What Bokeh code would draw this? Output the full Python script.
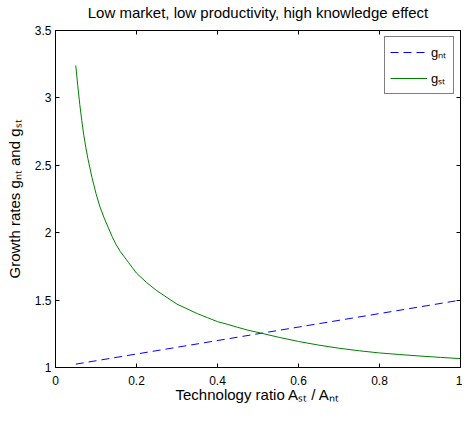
from bokeh.plotting import figure
from bokeh.models import Range1d, FixedTicker, LinearAxis, Legend, LegendItem
from bokeh.embed import file_html
from bokeh.resources import INLINE

# ---- data ----
x_st = [0.05, 0.055, 0.06, 0.065, 0.07, 0.075, 0.08, 0.09, 0.10, 0.11, 0.12, 0.13,
        0.14, 0.15, 0.16, 0.17, 0.18, 0.19, 0.20, 0.225, 0.25, 0.275, 0.30, 0.325,
        0.35, 0.375, 0.40, 0.425, 0.45, 0.475, 0.50, 0.55, 0.60, 0.65, 0.70, 0.75,
        0.80, 0.85, 0.90, 0.95, 1.00]
g_st = [3.24, 3.09, 2.95, 2.83, 2.72, 2.63, 2.55, 2.41, 2.29, 2.19, 2.11, 2.04,
        1.97, 1.91, 1.86, 1.82, 1.78, 1.74, 1.70, 1.63, 1.57, 1.52, 1.47, 1.435,
        1.40, 1.37, 1.34, 1.32, 1.298, 1.277, 1.26, 1.225, 1.193, 1.166, 1.143, 1.124,
        1.108, 1.096, 1.085, 1.075, 1.066]
x_nt = [0.05, 0.50, 1.00]
g_nt = [1.025, 1.25, 1.50]

x_ticks = [0, 0.2, 0.4, 0.6, 0.8, 1]
x_tick_labels = ["0", "0.2", "0.4", "0.6", "0.8", "1"]
y_ticks = [1, 1.5, 2, 2.5, 3, 3.5]
y_tick_labels = ["1", "1.5", "2", "2.5", "3", "3.5"]

title_text = "Low market, low productivity, high knowledge effect"
x_label = "Technology ratio A\u209b\u209c / A\u2099\u209c"
y_label = "Growth rates g\u2099\u209c and g\u209b\u209c"
legend_labels = ["g\u2099\u209c", "g\u209b\u209c"]

# ---- styling ----
FONT = "Liberation Sans"

p = figure(width=462, height=413, output_backend="svg", toolbar_location=None,
           x_range=Range1d(0, 1), y_range=Range1d(1, 3.5),
           min_border_left=55, min_border_right=2, min_border_top=29, min_border_bottom=46)
p.title.visible = False
p.xgrid.visible = False
p.ygrid.visible = False
p.outline_line_color = "black"
p.outline_line_width = 1
p.background_fill_color = "white"
p.border_fill_color = "white"

xt = FixedTicker(ticks=x_ticks)
yt = FixedTicker(ticks=y_ticks)


def style_axis(ax, ticker, standoff):
    ax.ticker = ticker
    ax.major_tick_in = 4
    ax.major_tick_out = 0
    ax.minor_tick_in = 0
    ax.minor_tick_out = 0
    ax.axis_line_color = "black"
    ax.major_tick_line_color = "black"
    ax.major_label_text_font = FONT
    ax.major_label_text_font_size = "12px"
    ax.major_label_text_color = "black"
    ax.major_label_standoff = standoff
    ax.axis_label_text_font = FONT
    ax.axis_label_text_font_size = "15px"
    ax.axis_label_text_font_style = "normal"
    ax.axis_label_text_color = "black"


xa = p.xaxis[0]
style_axis(xa, xt, 8)
xa.major_label_overrides = {t: l for t, l in zip(x_ticks, x_tick_labels)}
xa.axis_label = x_label
xa.axis_label_standoff = -2

ya = p.yaxis[0]
style_axis(ya, yt, 4)
ya.major_label_overrides = {t: l for t, l in zip(y_ticks, y_tick_labels)}
ya.axis_label = y_label
ya.axis_label_standoff = 9

top_ax = LinearAxis()
right_ax = LinearAxis()
for ax, tk in ((top_ax, xt), (right_ax, yt)):
    style_axis(ax, tk, 0)
    ax.major_label_text_font_size = "1px"
    ax.major_label_text_color = None
# the chart title sits on the top axis
top_ax.axis_label = title_text
top_ax.axis_label_standoff = 10
p.add_layout(top_ax, "above")
p.add_layout(right_ax, "right")

r_nt = p.line(x_nt, g_nt, line_color="#0000ff", line_width=1, line_dash="8 5")
r_st = p.line(x_st, g_st, line_color="#008000", line_width=1)

legend = Legend(items=[LegendItem(label=legend_labels[0], renderers=[r_nt]),
                       LegendItem(label=legend_labels[1], renderers=[r_st])],
                location="top_right", margin=6, padding=5, spacing=6,
                glyph_width=37, glyph_height=20, label_standoff=4,
                label_width=17, label_height=20,
                label_text_font=FONT, label_text_font_size="13px", label_text_color="black",
                border_line_color="black", border_line_width=1,
                background_fill_color="white", background_fill_alpha=1)
p.add_layout(legend)

open("out.html", "w").write(file_html(p, INLINE))
